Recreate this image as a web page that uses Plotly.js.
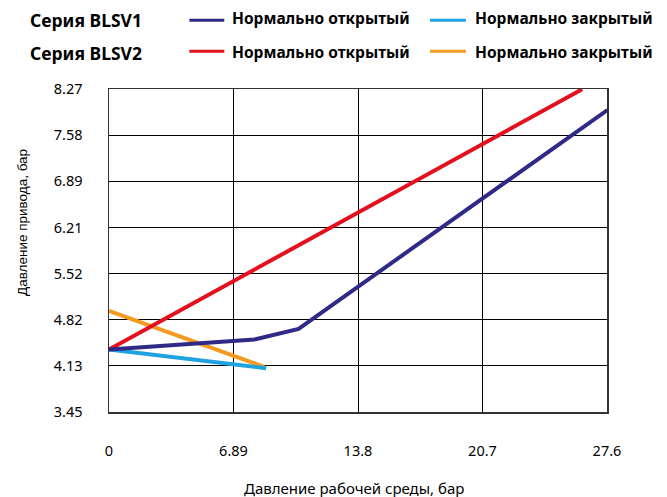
<!DOCTYPE html>
<html>
<head>
<meta charset="utf-8">
<script src="https://cdn.plot.ly/plotly-3.0.1.min.js"></script>
<style>html,body{margin:0;padding:0;background:#fff;}#chart{width:667px;height:497px;}</style>
</head>
<body>
<div id="chart"></div>
<script>
// Data (bar)
var blsv1_no_x = [0, 8.06, 10.5, 27.6];
var blsv1_no_y = [4.38, 4.53, 4.69, 7.96];
var blsv1_nc_x = [0, 8.7];
var blsv1_nc_y = [4.38, 4.10];
var blsv2_no_x = [0, 26.2];
var blsv2_no_y = [4.38, 8.27];
var blsv2_nc_x = [0, 8.6];
var blsv2_nc_y = [4.96, 4.12];

var xTickVals = [0, 6.895, 13.79, 20.684, 27.579];
var xTickText = ["0", "6.89", "13.8", "20.7", "27.6"];
var yTickVals = [3.447, 4.137, 4.826, 5.516, 6.205, 6.895, 7.584, 8.274];
var yTickText = ["3.45", "4.13", "4.82", "5.52", "6.21", "6.89", "7.58", "8.27"];

var seriesNames = ["Серия BLSV1", "Серия BLSV2"];
var legendLabels = ["Нормально открытый", "Нормально закрытый"];
var xTitle = "Давление рабочей среды, бар";
var yTitle = "Давление привода, бар";

var cNO1 = "#2e2a85", cNC1 = "#1fa3e0", cNO2 = "#e3101e", cNC2 = "#f39a1f";

var traces = [
  {x: blsv2_nc_x, y: blsv2_nc_y, mode: "lines", line: {color: cNC2, width: 4}, name: "BLSV2 NC"},
  {x: blsv1_nc_x, y: blsv1_nc_y, mode: "lines", line: {color: cNC1, width: 4}, name: "BLSV1 NC"},
  {x: blsv2_no_x, y: blsv2_no_y, mode: "lines", line: {color: cNO2, width: 4}, name: "BLSV2 NO"},
  {x: blsv1_no_x, y: blsv1_no_y, mode: "lines", line: {color: cNO1, width: 4}, name: "BLSV1 NO"}
];

var L = 108.5, R = 607.3, T = 88.7, B = 411.7;
function px(x) { return (x - L) / (R - L); }
function py(y) { return (B - y) / (B - T); }

var boldFont = {family: "Noto Sans, sans-serif", size: 15.5, color: "#000"};
var serFont = {family: "Noto Sans, sans-serif", size: 17.5, color: "#000"};
var annotations = [
  {text: "<b>" + seriesNames[0] + "</b>", xref: "paper", yref: "paper", x: px(27), y: py(19.5), xanchor: "left", yanchor: "middle", showarrow: false, font: serFont},
  {text: "<b>" + seriesNames[1] + "</b>", xref: "paper", yref: "paper", x: px(27), y: py(52.5), xanchor: "left", yanchor: "middle", showarrow: false, font: serFont},
  {text: "<b>" + legendLabels[0] + "</b>", xref: "paper", yref: "paper", x: px(230), y: py(18), xanchor: "left", yanchor: "middle", showarrow: false, font: boldFont},
  {text: "<b>" + legendLabels[1] + "</b>", xref: "paper", yref: "paper", x: px(473), y: py(18), xanchor: "left", yanchor: "middle", showarrow: false, font: boldFont},
  {text: "<b>" + legendLabels[0] + "</b>", xref: "paper", yref: "paper", x: px(230), y: py(51.5), xanchor: "left", yanchor: "middle", showarrow: false, font: boldFont},
  {text: "<b>" + legendLabels[1] + "</b>", xref: "paper", yref: "paper", x: px(473), y: py(51.5), xanchor: "left", yanchor: "middle", showarrow: false, font: boldFont},
  {text: xTitle, xref: "paper", yref: "paper", x: px(354), y: py(488), xanchor: "center", yanchor: "middle", showarrow: false, font: {family: "Noto Sans, sans-serif", size: 15, color: "#000"}},
  {text: yTitle, xref: "paper", yref: "paper", x: px(22), y: py(222), xanchor: "center", yanchor: "middle", textangle: -90, showarrow: false, font: {family: "Liberation Sans, Arial, sans-serif", size: 13.5, color: "#000"}}
];

function legLine(x0, x1, yy, c) {
  return {type: "line", xref: "paper", yref: "paper", x0: px(x0), x1: px(x1), y0: py(yy), y1: py(yy), line: {color: c, width: 3}};
}
var shapes = [
  legLine(189, 224, 20, cNO1),
  legLine(430, 466, 20, cNC1),
  legLine(189, 224, 51, cNO2),
  legLine(430, 466, 51, cNC2)
];

var layout = {
  width: 667, height: 497,
  margin: {l: L, r: 667 - R, t: T, b: 497 - B},
  paper_bgcolor: "#fff", plot_bgcolor: "#fff",
  showlegend: false,
  font: {family: "Noto Sans, sans-serif", size: 14.5, color: "#000"},
  xaxis: {
    range: [0, 27.579], tickmode: "array", tickvals: xTickVals, ticktext: xTickText,
    showgrid: true, gridcolor: "#000", gridwidth: 1, zeroline: false,
    showline: true, linecolor: "#333", linewidth: 1.5, mirror: true,
    ticks: "", ticklabelstandoff: 25, tickfont: {family: "Noto Sans, sans-serif", size: 14.5, color: "#000"}
  },
  yaxis: {
    range: [3.447, 8.274], tickmode: "array", tickvals: yTickVals, ticktext: yTickText,
    showgrid: true, gridcolor: "#000", gridwidth: 1, zeroline: false,
    showline: true, linecolor: "#333", linewidth: 1.5, mirror: true,
    ticks: "", ticklabelstandoff: 22, tickfont: {family: "Noto Sans, sans-serif", size: 14.5, color: "#000"}
  },
  annotations: annotations,
  shapes: shapes
};

Plotly.newPlot("chart", traces, layout, {displayModeBar: false, staticPlot: true});
</script>
</body>
</html>
